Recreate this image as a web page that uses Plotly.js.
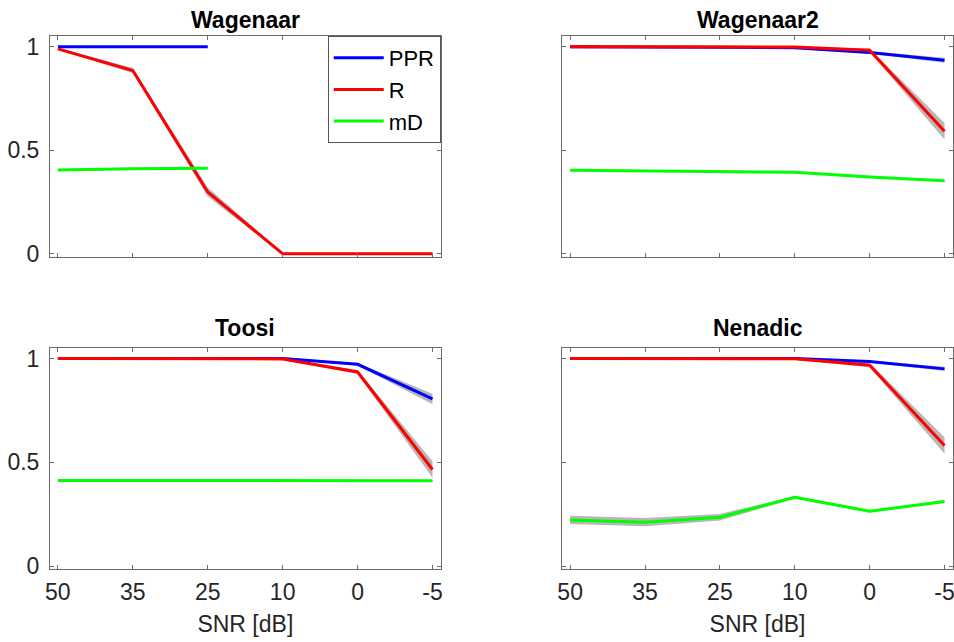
<!DOCTYPE html>
<html>
<head>
<meta charset="utf-8">
<script src="https://cdn.plot.ly/plotly-3.0.1.min.js"></script>
<style>html,body{margin:0;padding:0;background:#fff;}#plot{width:954px;height:642px;}</style>
</head>
<body>
<div id="plot"></div>
<script>
// SNR categories (x tick labels)
const categories = ['50', '35', '25', '10', '0', '-5'];
const panelTitles = ['Wagenaar', 'Wagenaar2', 'Toosi', 'Nenadic'];
const seriesNames = ['PPR', 'R', 'mD'];
const seriesColors = ['#0000ff', '#ff0000', '#00ff00'];
const yTickVals = [0, 0.5, 1];
const yTickText = ['0', '0.5', '1'];

// Wagenaar
const wagPPR = [1.000, 1.000, 1.000, null, null, null];
const wagR   = [0.990, 0.885, 0.298, 0.000, 0.000, 0.000];
const wagMD  = [0.405, 0.411, 0.413, null, null, null];
const wagPPRsd = [0.003, 0.003, 0.003, null, null, null];
const wagRsd   = [0.005, 0.012, 0.022, 0.004, 0.004, 0.004];
const wagMDsd  = [0.004, 0.004, 0.004, null, null, null];

// Wagenaar2
const w2PPR = [1.000, 1.000, 0.998, 0.995, 0.972, 0.935];
const w2R   = [1.000, 1.000, 1.000, 0.999, 0.983, 0.592];
const w2MD  = [0.403, 0.400, 0.399, 0.393, 0.371, 0.353];
const w2PPRsd = [0.003, 0.003, 0.003, 0.004, 0.006, 0.012];
const w2Rsd   = [0.003, 0.003, 0.003, 0.004, 0.008, 0.040];
const w2MDsd  = [0.004, 0.004, 0.004, 0.004, 0.004, 0.004];

// Toosi
const toPPR = [1.000, 1.000, 1.000, 1.000, 0.972, 0.805];
const toR   = [1.000, 1.000, 1.000, 0.998, 0.935, 0.465];
const toMD  = [0.412, 0.412, 0.412, 0.412, 0.411, 0.411];
const toPPRsd = [0.003, 0.003, 0.003, 0.003, 0.006, 0.025];
const toRsd   = [0.003, 0.003, 0.003, 0.004, 0.010, 0.040];
const toMDsd  = [0.003, 0.003, 0.003, 0.003, 0.003, 0.003];

// Nenadic
const nePPR = [1.000, 1.000, 1.000, 1.000, 0.985, 0.950];
const neR   = [1.000, 1.000, 1.000, 0.999, 0.968, 0.581];
const neMD  = [0.222, 0.211, 0.235, 0.331, 0.264, 0.311];
const nePPRsd = [0.003, 0.003, 0.003, 0.003, 0.005, 0.010];
const neRsd   = [0.003, 0.003, 0.003, 0.004, 0.010, 0.040];
const neMDsd  = [0.020, 0.020, 0.016, 0.006, 0.006, 0.006];

const panels = [
  {vals: [wagPPR, wagR, wagMD], sds: [wagPPRsd, wagRsd, wagMDsd]},
  {vals: [w2PPR, w2R, w2MD], sds: [w2PPRsd, w2Rsd, w2MDsd]},
  {vals: [toPPR, toR, toMD], sds: [toPPRsd, toRsd, toMDsd]},
  {vals: [nePPR, neR, neMD], sds: [nePPRsd, neRsd, neMDsd]}
];

const xIdx = categories.map((_, i) => i);

function bandTrace(y, sd, xa, ya) {
  const xs = [], up = [], lo = [];
  y.forEach((v, i) => { if (v !== null) { xs.push(i); up.push(v + sd[i]); lo.push(v - sd[i]); } });
  return {
    x: xs.concat(xs.slice().reverse()),
    y: up.concat(lo.slice().reverse()),
    type: 'scatter', mode: 'lines', fill: 'toself',
    fillcolor: 'rgba(165,165,165,0.8)', line: {width: 0, color: 'rgba(0,0,0,0)'},
    hoverinfo: 'skip', showlegend: false, xaxis: xa, yaxis: ya
  };
}

const traces = [];
const axIds = [['x', 'y'], ['x2', 'y2'], ['x3', 'y3'], ['x4', 'y4']];
panels.forEach((p, k) => {
  p.vals.forEach((v, s) => traces.push(bandTrace(v, p.sds[s], axIds[k][0], axIds[k][1])));
});
panels.forEach((p, k) => {
  p.vals.forEach((v, s) => traces.push({
    x: xIdx, y: v, type: 'scatter', mode: 'lines', name: seriesNames[s],
    line: {color: seriesColors[s], width: 3}, connectgaps: false,
    showlegend: k === 0, legendgroup: seriesNames[s],
    xaxis: axIds[k][0], yaxis: axIds[k][1]
  }));
});

const FONT = 'Liberation Sans, Arial, Helvetica, sans-serif';
const axisColor = '#6b6b6b';
const TICKSIZE = 23;
function xAxis(domain, anchor, showLabels) {
  const a = {
    domain: domain, anchor: anchor, range: [-0.105, 5.11],
    tickvals: xIdx, ticktext: categories, showticklabels: showLabels,
    showline: true, linecolor: axisColor, linewidth: 1, mirror: 'ticks',
    ticks: 'inside', ticklen: 4, tickcolor: axisColor, tickwidth: 1,
    showgrid: false, zeroline: false, fixedrange: true, ticklabelstandoff: 2,
    ticklabeloverflow: 'allow',
    tickfont: {family: FONT, size: TICKSIZE, color: '#262626'}
  };
  if (showLabels) a.title = {text: 'SNR [dB]', font: {family: FONT, size: TICKSIZE, color: '#262626'}, standoff: 11};
  return a;
}
function yAxis(domain, anchor, showLabels) {
  return {
    domain: domain, anchor: anchor, range: [-0.016, 1.052],
    tickvals: yTickVals, ticktext: yTickText, showticklabels: showLabels,
    showline: true, linecolor: axisColor, linewidth: 1, mirror: 'ticks',
    ticks: 'inside', ticklen: 4, tickcolor: axisColor, tickwidth: 1,
    showgrid: false, zeroline: false, fixedrange: true, ticklabelstandoff: 5,
    ticklabeloverflow: 'allow',
    tickfont: {family: FONT, size: TICKSIZE, color: '#262626'}
  };
}

const xL = [0.0524, 0.4620], xR = [0.5894, 0.9987];
const yT = [0.5997, 0.9439], yB = [0.1132, 0.4584];

const titlePos = [
  {x: (xL[0] + xL[1]) / 2, y: 1 - 20 / 642},
  {x: (xR[0] + xR[1]) / 2, y: 1 - 20 / 642},
  {x: (xL[0] + xL[1]) / 2, y: 1 - 328 / 642},
  {x: (xR[0] + xR[1]) / 2, y: 1 - 328 / 642}
];

const layout = {
  width: 954, height: 642,
  margin: {l: 0, r: 0, t: 0, b: 0},
  paper_bgcolor: '#ffffff', plot_bgcolor: '#ffffff',
  font: {family: FONT, color: '#262626'},
  xaxis: xAxis(xL, 'y', false),
  yaxis: yAxis(yT, 'x', true),
  xaxis2: xAxis(xR, 'y2', false),
  yaxis2: yAxis(yT, 'x2', false),
  xaxis3: xAxis(xL, 'y3', true),
  yaxis3: yAxis(yB, 'x3', true),
  xaxis4: xAxis(xR, 'y4', true),
  yaxis4: yAxis(yB, 'x4', false),
  showlegend: true,
  legend: {
    x: xL[1], xanchor: 'right', y: yT[1], yanchor: 'top',
    bgcolor: '#ffffff', bordercolor: '#555555', borderwidth: 1,
    font: {family: FONT, size: 22, color: '#000000'},
    itemwidth: 50, tracegroupgap: 0
  },
  annotations: panelTitles.map((t, k) => ({
    text: '<b>' + t + '</b>', xref: 'paper', yref: 'paper',
    x: titlePos[k].x, y: titlePos[k].y, xanchor: 'center', yanchor: 'middle',
    showarrow: false, font: {family: FONT, size: 23, color: '#000000'}
  }))
};

Plotly.newPlot('plot', traces, layout, {displayModeBar: false, staticPlot: true});
</script>
</body>
</html>
